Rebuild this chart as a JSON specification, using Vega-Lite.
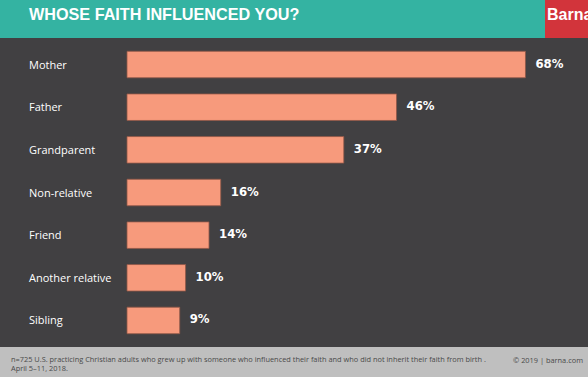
{
  "$schema": "https://vega.github.io/schema/vega-lite/v6.json",
  "padding": 0,
  "background": "#414042",
  "spacing": 0,
  "config": {"view": {"stroke": null}, "concat": {"spacing": 0}},
  "datasets": {
    "bars": [
      {"source": "Mother", "pct": 68, "label": "68%"},
      {"source": "Father", "pct": 46, "label": "46%"},
      {"source": "Grandparent", "pct": 37, "label": "37%"},
      {"source": "Non-relative", "pct": 16, "label": "16%"},
      {"source": "Friend", "pct": 14, "label": "14%"},
      {"source": "Another relative", "pct": 10, "label": "10%"},
      {"source": "Sibling", "pct": 9, "label": "9%"}
    ],
    "header": [{"title": "WHOSE FAITH INFLUENCED YOU?", "brand": "Barna"}],
    "footer": [{"note": "n=725 U.S. practicing Christian adults who grew up with someone who influenced their faith and who did not inherit their faith from birth .\nApril 5–11, 2018.", "copy": "© 2019 | barna.com"}]
  },
  "vconcat": [
    {
      "hconcat": [
        {
          "width": 545,
          "height": 38,
          "view": {"fill": "#34b3a2", "stroke": null},
          "data": {"name": "header"},
          "mark": {"type": "text", "align": "left", "baseline": "alphabetic", "dx": 29, "dy": 0.5, "font": "Liberation Sans", "fontWeight": "bold", "fontSize": 16.2, "color": "#ffffff"},
          "encoding": {
            "x": {"datum": 0, "type": "quantitative", "scale": {"domain": [0, 1]}, "axis": null},
            "text": {"field": "title"}
          }
        },
        {
          "width": 43,
          "height": 38,
          "view": {"fill": "#d2343b", "stroke": null},
          "data": {"name": "header"},
          "mark": {"type": "text", "align": "left", "baseline": "alphabetic", "dx": 2, "dy": 0.5, "font": "Liberation Sans", "fontWeight": "bold", "fontSize": 16, "color": "#ffffff", "clip": true},
          "encoding": {
            "x": {"datum": 0, "type": "quantitative", "scale": {"domain": [0, 1]}, "axis": null},
            "text": {"field": "brand"}
          }
        }
      ]
    },
    {
      "width": 588,
      "height": 309,
      "view": {"fill": "#414042", "stroke": null},
      "data": {"name": "bars"},
      "encoding": {
        "y": {"field": "source", "type": "nominal", "sort": null, "axis": null,
              "scale": {"paddingInner": 0.378, "paddingOuter": 0.311}}
      },
      "layer": [
        {
          "mark": {"type": "bar", "color": "#f79a7c", "stroke": "#8e5546", "strokeWidth": 0.8},
          "encoding": {
            "x": {"field": "pct", "type": "quantitative", "scale": {"domain": [-21.67, 78.67], "nice": false, "zero": false}, "axis": null},
            "x2": {"datum": 0}
          }
        },
        {
          "mark": {"type": "text", "align": "left", "baseline": "middle", "dx": -98, "dy": 1, "font": "Open Sans", "fontSize": 11, "color": "#ffffff"},
          "encoding": {
            "x": {"datum": 0, "type": "quantitative"},
            "text": {"field": "source"}
          }
        },
        {
          "mark": {"type": "text", "align": "left", "baseline": "middle", "dx": 10, "dy": -1, "font": "DejaVu Sans Condensed, Liberation Sans Narrow, Liberation Sans, sans-serif", "fontWeight": "bold", "fontSize": 13, "color": "#ffffff"},
          "encoding": {
            "x": {"field": "pct", "type": "quantitative"},
            "text": {"field": "label"}
          }
        }
      ]
    },
    {
      "width": 588,
      "height": 30,
      "view": {"fill": "#bfbfbf", "stroke": null},
      "data": {"name": "footer"},
      "layer": [
        {
          "mark": {"type": "text", "align": "left", "baseline": "middle", "dx": 11, "dy": -2, "lineBreak": "\n", "lineHeight": 9.3, "font": "Open Sans", "fontSize": 7.4, "color": "#4a4a4a"},
          "encoding": {
            "x": {"datum": 0, "type": "quantitative", "scale": {"domain": [0, 1]}, "axis": null},
            "text": {"field": "note"}
          }
        },
        {
          "mark": {"type": "text", "align": "right", "baseline": "middle", "dx": -5, "dy": -1, "font": "Open Sans", "fontSize": 7.4, "color": "#4a4a4a"},
          "encoding": {
            "x": {"datum": 1, "type": "quantitative", "scale": {"domain": [0, 1]}, "axis": null},
            "text": {"field": "copy"}
          }
        }
      ]
    }
  ]
}
